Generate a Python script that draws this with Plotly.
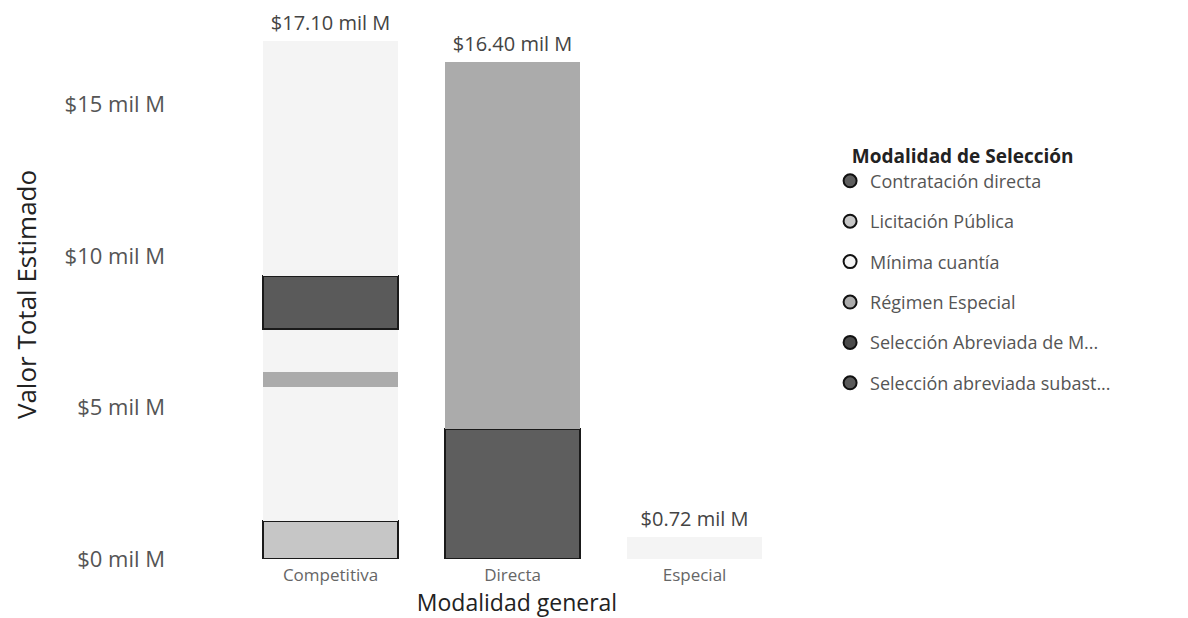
import plotly.graph_objects as go

# ── Data ──────────────────────────────────────────
categorias = ["Competitiva", "Directa", "Especial"]

modalidades = ["Contratación directa", "Licitación Pública", "Mínima cuantía",
               "Régimen Especial", "Selección Abreviada de M...",
               "Selección abreviada subast..."]

# stacked rows (bottom -> top), one segment each
fila_categoria = ["Competitiva", "Competitiva", "Competitiva", "Competitiva",
                  "Competitiva", "Competitiva", "Directa", "Directa", "Especial"]
fila_modalidad = ["Licitación Pública", "Mínima cuantía", "Régimen Especial",
                  "Mínima cuantía", "Selección abreviada subast...", "Mínima cuantía",
                  "Contratación directa", "Régimen Especial", "Mínima cuantía"]
fila_valor = [1.26, 4.42, 0.48, 1.44, 1.73, 7.77, 4.30, 12.10, 0.72]  # mil M

y_ticks = [0, 5, 10, 15]
y_ticktext = ["$0 mil M", "$5 mil M", "$10 mil M", "$15 mil M"]

# ── Styles ────────────────────────────────────────
colores = {
    "Contratación directa": "#5e5e5e",
    "Licitación Pública": "#c6c6c6",
    "Mínima cuantía": "#f4f4f4",
    "Régimen Especial": "#ababab",
    "Selección Abreviada de M...": "#4a4a4a",
    "Selección abreviada subast...": "#5a5a5a",
}
con_borde = {"Contratación directa", "Licitación Pública",
             "Selección abreviada subast..."}

FONT = "Open Sans, Noto Sans, sans-serif"

fig = go.Figure()

# ── Bars ──────────────────────────────────────────
for cat, mod, val in zip(fila_categoria, fila_modalidad, fila_valor):
    fig.add_trace(go.Bar(
        x=[cat], y=[val],
        marker_color=colores[mod],
        marker_line_color="#1a1a1a",
        marker_line_width=2 if mod in con_borde else 0,
        showlegend=False,
        hoverinfo="skip",
    ))

# ── Total labels ──────────────────────────────────
totales = [sum(v for c, v in zip(fila_categoria, fila_valor) if c == cat)
           for cat in categorias]
fig.add_trace(go.Scatter(
    x=categorias, y=totales, mode="text+markers",
    marker=dict(size=8, opacity=0),
    text=[f"${t:.2f} mil M" for t in totales],
    textposition="top center",
    textfont=dict(size=20, color="#444", family=FONT),
    cliponaxis=False,
    showlegend=False, hoverinfo="skip",
))

# ── Legend entries (circles) ──────────────────────
for mod in modalidades:
    fig.add_trace(go.Scatter(
        x=[None], y=[None], mode="markers", name=mod,
        legendgroup=mod,
        marker=dict(symbol="circle", size=13, color=colores[mod],
                    line=dict(color="#111", width=2)),
    ))

fig.update_layout(
    width=1188, height=618,
    barmode="stack", bargap=0.26,
    paper_bgcolor="white", plot_bgcolor="white",
    font=dict(family=FONT, color="#333"),
    margin=dict(l=158, r=328, t=22, b=67),
    legend=dict(
        title=dict(text="&nbsp;&nbsp;&nbsp;&nbsp;<b>Modalidad de Selección</b>",
                   font=dict(size=19, color="#222")),
        font=dict(size=18, color="#555"),
        x=0.946, xanchor="left", y=0.796, yanchor="top",
        tracegroupgap=14, traceorder="grouped",
    ),
)
fig.update_xaxes(
    range=[-0.904, 2.953], showgrid=False, showline=False, ticks="",
    tickfont=dict(size=17, color="#666"), ticklabelstandoff=4,
    title=dict(text="Modalidad general", font=dict(size=23, color="#222"),
               standoff=0),
)
fig.update_yaxes(
    range=[0, 17.45], showgrid=False, zeroline=False, showline=False,
    tickvals=y_ticks, ticktext=y_ticktext,
    tickfont=dict(size=22, color="#555"),
    title=dict(text="Valor Total Estimado", font=dict(size=26, color="#222"),
               standoff=20),
)

fig.write_html("out.html")
